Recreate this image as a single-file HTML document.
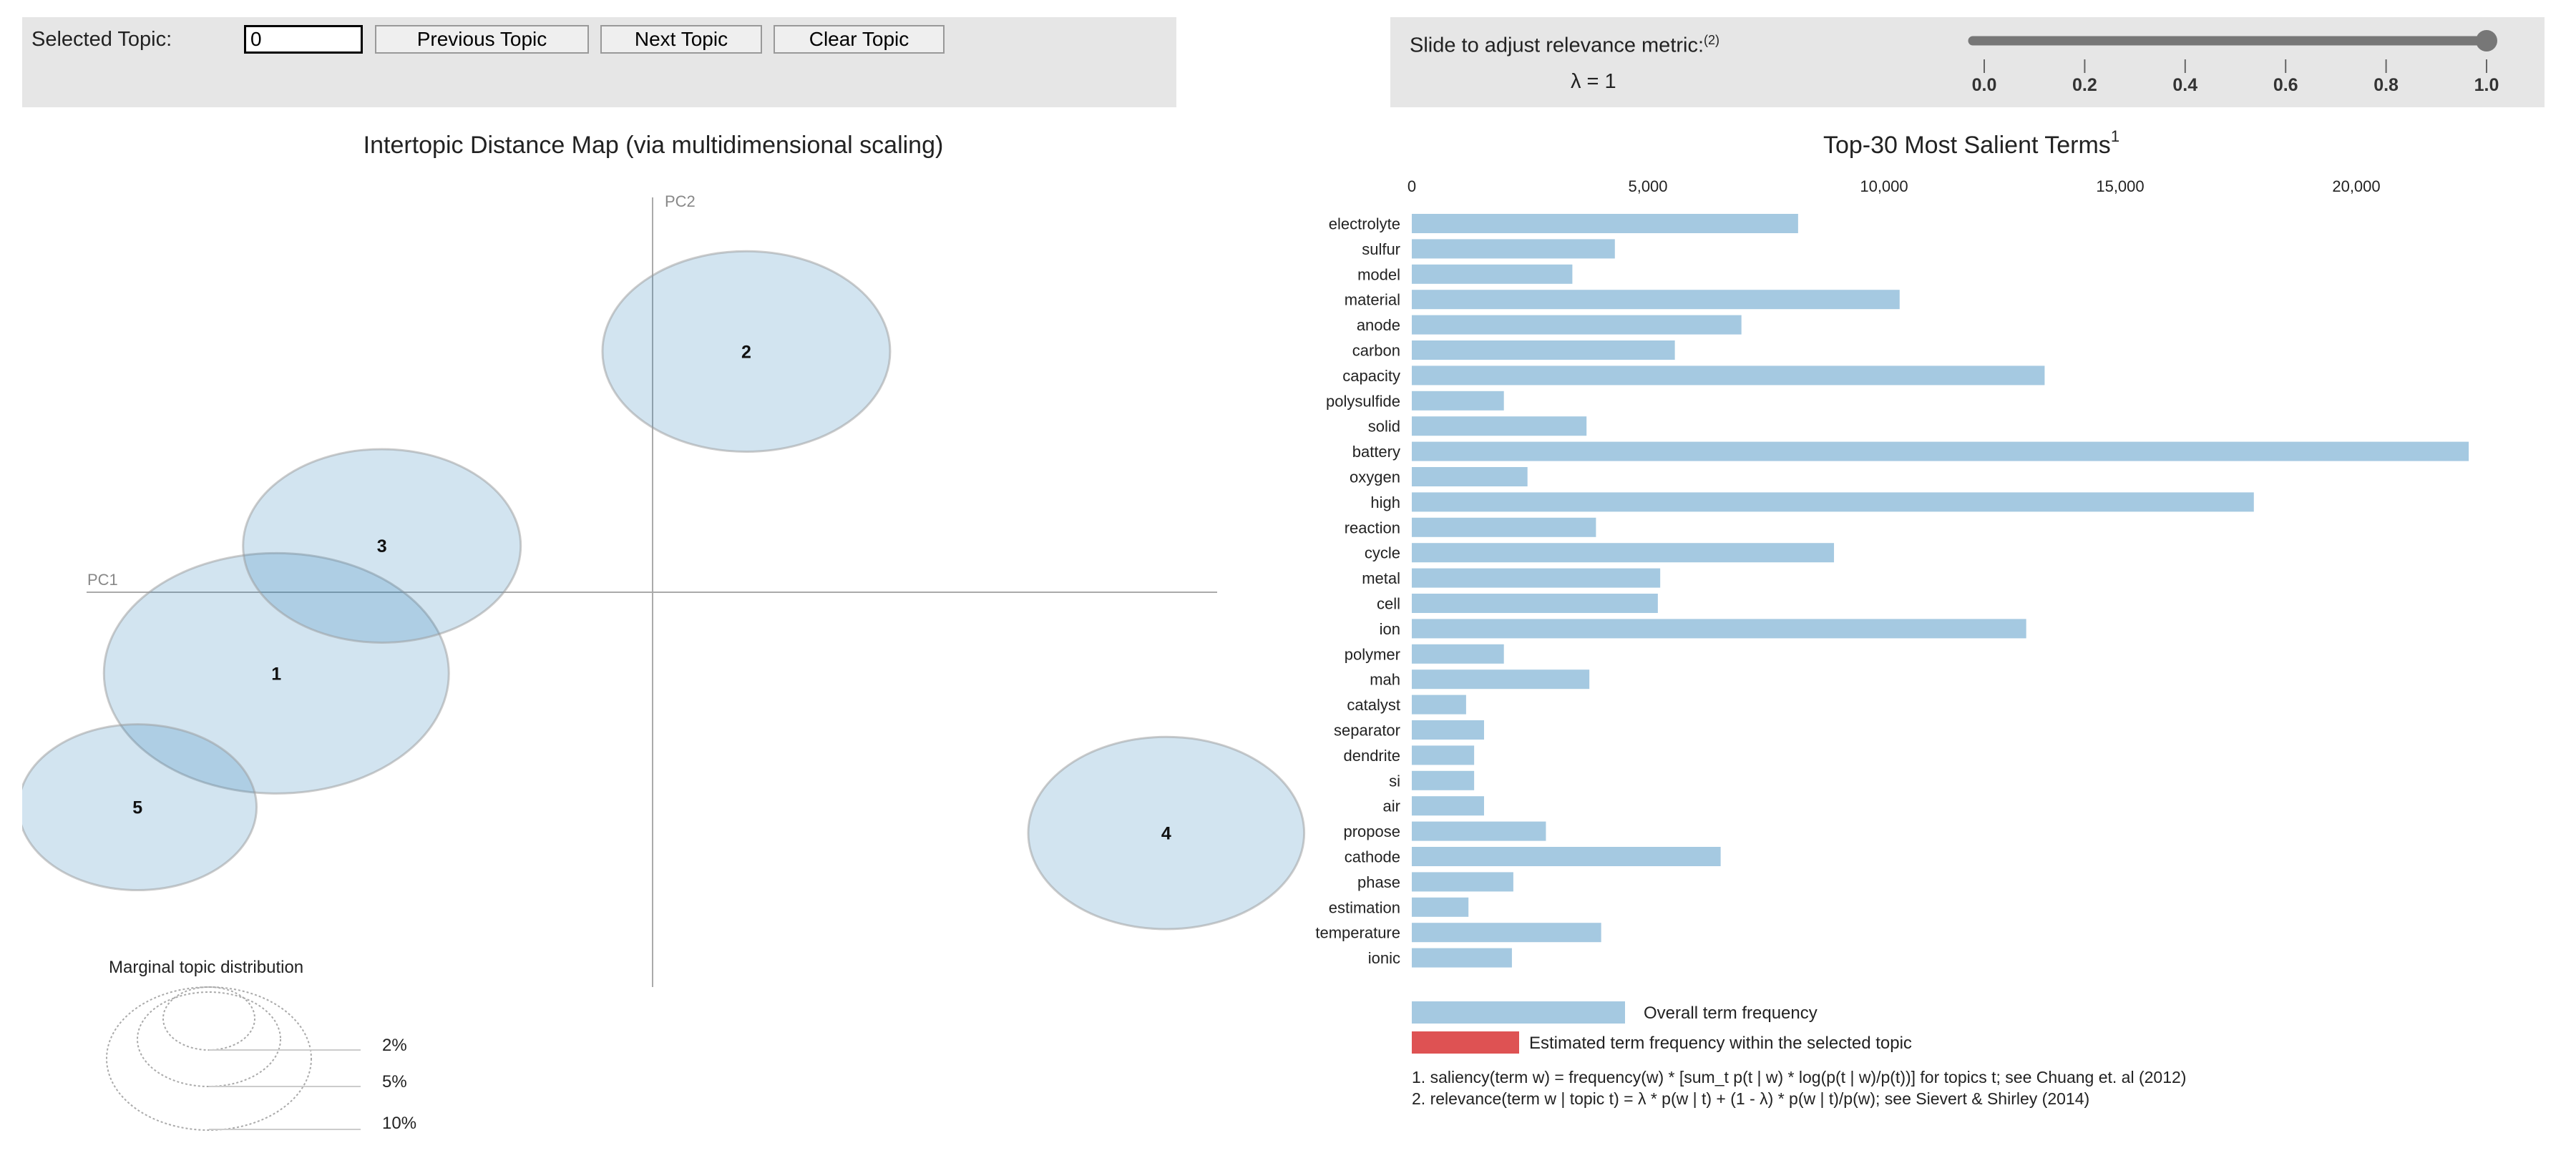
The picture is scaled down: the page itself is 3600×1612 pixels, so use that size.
<!DOCTYPE html>
<html><head><meta charset="utf-8"><style>
body{margin:0;width:3600px;height:1612px;background:#fff;font-family:"Liberation Sans",sans-serif;position:relative;overflow:hidden}
.panel{position:absolute;background:#e6e6e6}
.btn{position:absolute;top:35px;height:40px;border:2px solid #999;background:#efefef;font-size:28px;line-height:36px;text-align:center;box-sizing:border-box;color:#000}
</style></head><body>
<div class="panel" style="left:31px;top:24px;width:1613px;height:126px"></div>
<div style="position:absolute;left:44px;top:35px;font-size:29px;line-height:40px;color:#222">Selected Topic:</div>
<div style="position:absolute;left:341px;top:35px;width:166px;height:40px;border:3px solid #000;background:#fff;box-sizing:border-box;font-size:28px;padding-left:6px;line-height:34px">0</div>
<div class="btn" style="left:524px;width:299px">Previous Topic</div>
<div class="btn" style="left:839px;width:226px">Next Topic</div>
<div class="btn" style="left:1081px;width:239px">Clear Topic</div>

<div class="panel" style="left:1943px;top:24px;width:1613px;height:126px"></div>
<div style="position:absolute;left:1970px;top:46px;font-size:29px;color:#222">Slide to adjust relevance metric:<sup style="font-size:18px">(2)</sup></div>
<div style="position:absolute;left:2195px;top:98px;font-size:29px;color:#222">λ = 1</div>

<svg width="3600" height="1612" style="position:absolute;left:0;top:0" xmlns="http://www.w3.org/2000/svg" font-family="Liberation Sans, sans-serif">
<g>
<line x1="2757" y1="57" x2="3475" y2="57" stroke="#777" stroke-width="13" stroke-linecap="round"/>
<circle cx="3475" cy="57" r="15" fill="#777"/>
</g>
<g id="sliderTicks"></g>

<text x="913" y="214" font-size="34" text-anchor="middle" fill="#222">Intertopic Distance Map (via multidimensional scaling)</text>
<line x1="912" y1="276" x2="912" y2="1380" stroke="#aaa" stroke-width="2"/>
<line x1="121" y1="828" x2="1701" y2="828" stroke="#aaa" stroke-width="2"/>
<text x="929" y="289" font-size="22" fill="#888">PC2</text>
<text x="122" y="818" font-size="22" fill="#888">PC1</text>
<defs><clipPath id="mapclip"><rect x="31" y="230" width="1900" height="1200"/></clipPath></defs>
<g id="topics" clip-path="url(#mapclip)"></g>

<text x="152" y="1360" font-size="24" fill="#222">Marginal topic distribution</text>
<g fill="none" stroke="#aaa" stroke-width="2" stroke-dasharray="3,3">
<ellipse cx="292" cy="1480" rx="143" ry="100"/>
<ellipse cx="292" cy="1453" rx="100" ry="66"/>
<ellipse cx="292" cy="1424" rx="64" ry="44"/>
</g>
<g stroke="#ccc" stroke-width="2"><line x1="292" y1="1468" x2="504" y2="1468"/><line x1="292" y1="1519" x2="504" y2="1519"/><line x1="292" y1="1579" x2="504" y2="1579"/></g>
<g font-size="24" fill="#222"><text x="534" y="1469">2%</text><text x="534" y="1520">5%</text><text x="534" y="1578">10%</text></g>

<text x="2755" y="214" font-size="34" text-anchor="middle" fill="#222">Top-30 Most Salient Terms<tspan font-size="22" dy="-16">1</tspan></text>
<g id="xticks"></g>
<g id="bars"></g>

<rect x="1973" y="1400" width="298" height="31" fill="#1f77b4" fill-opacity="0.4"/>
<text x="2297" y="1424" font-size="24" fill="#222">Overall term frequency</text>
<rect x="1973" y="1442" width="150" height="31" fill="#d62728" fill-opacity="0.8"/>
<text x="2137" y="1466" font-size="24" fill="#222">Estimated term frequency within the selected topic</text>
<text x="1973" y="1514" font-size="23" fill="#222">1. saliency(term w) = frequency(w) * [sum_t p(t | w) * log(p(t | w)/p(t))] for topics t; see Chuang et. al (2012)</text>
<text x="1973" y="1544" font-size="23" fill="#222">2. relevance(term w | topic t) = λ * p(w | t) + (1 - λ) * p(w | t)/p(w); see Sievert &amp; Shirley (2014)</text>
</svg>
<script>
const terms=["electrolyte","sulfur","model","material","anode","carbon","capacity","polysulfide","solid","battery","oxygen","high","reaction","cycle","metal","cell","ion","polymer","mah","catalyst","separator","dendrite","si","air","propose","cathode","phase","estimation","temperature","ionic"];
const freq=[8180,4300,3400,10330,6980,5570,13400,1950,3700,22380,2450,17830,3900,8940,5260,5210,13010,1950,3760,1150,1530,1320,1320,1530,2840,6540,2150,1200,4010,2120];
const xTickVals=[0,5000,10000,15000,20000];
const xTickLabels=["0","5,000","10,000","15,000","20,000"];
const topicIds=["1","2","3","4","5"];
const topicPC1=[-0.271,0.0675,-0.195,0.370,-0.371];
const topicPC2=[-0.063,0.187,0.036,-0.187,-0.167];
const topicSize=[1.0,0.834,0.805,0.80,0.69];
const sliderVals=[0,0.2,0.4,0.6,0.8,1.0];
const NS="http://www.w3.org/2000/svg";
function mk(t,a,p){const e=document.createElementNS(NS,t);for(const k in a)e.setAttribute(k,a[k]);p.appendChild(e);return e;}
const x0=1973, pxPerUnit=330/5000, y0=299, step=35.4, bh=27;
const xs=v=>x0+v*pxPerUnit;
const ys=i=>y0+i*step;
const xt=document.getElementById('xticks');
xTickVals.forEach((v,i)=>{const t=mk('text',{x:xs(v),y:268,'font-size':22,'text-anchor':'middle',fill:'#222'},xt);t.textContent=xTickLabels[i];

});
const bg=document.getElementById('bars');
terms.forEach((w,i)=>{
const r=mk('rect',{x:x0,y:ys(i),width:xs(freq[i])-x0,height:bh,fill:'#1f77b4','fill-opacity':0.4},bg);


const t=mk('text',{x:1957,y:ys(i)+bh/2+8,'font-size':22,'text-anchor':'end',fill:'#222'},bg);t.textContent=w;


});
const mx=v=>912+v*1940, my=v=>828-v*1800;
const tg=document.getElementById('topics');
topicIds.forEach((id,i)=>{
const e=mk('ellipse',{cx:mx(topicPC1[i]),cy:my(topicPC2[i]),rx:241*topicSize[i],ry:168*topicSize[i],fill:'#1f77b4','fill-opacity':0.2,stroke:'#999','stroke-opacity':0.5,'stroke-width':3},tg);


});
topicIds.forEach((id,i)=>{
const t=mk('text',{x:mx(topicPC1[i]),y:my(topicPC2[i])+9,'font-size':25,'font-weight':'bold','text-anchor':'middle',fill:'#111'},tg);t.textContent=id;


});
const st=document.getElementById('sliderTicks');
sliderVals.forEach(v=>{const x=2773+v*702;
mk('line',{x1:x,y1:83,x2:x,y2:102,stroke:'#666','stroke-width':2},st);
const t=mk('text',{x:x,y:127,'font-size':25,'font-weight':'bold','text-anchor':'middle',fill:'#333'},st);t.textContent=v.toFixed(1);

});
</script>
</body></html>
